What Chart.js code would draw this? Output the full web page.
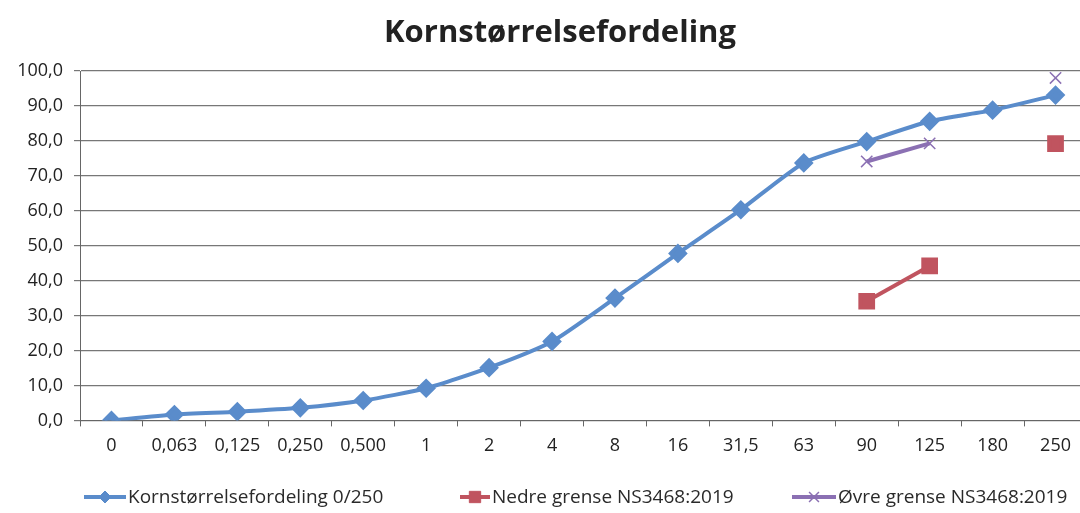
<!DOCTYPE html>
<html>
<head>
<meta charset="utf-8">
<script src="https://cdn.jsdelivr.net/npm/chart.js@4"></script>
<style>
  html, body { margin: 0; padding: 0; background: #fff; overflow: hidden; }
  #wrap { width: 1100px; height: 513px; }
</style>
</head>
<body>
<div id="wrap"><canvas id="chart" width="1100" height="513"></canvas></div>
<script>
const chartTitle = 'Kornstørrelsefordeling';
const sieveSizes = ['0', '0,063', '0,125', '0,250', '0,500', '1', '2', '4', '8', '16', '31,5', '63', '90', '125', '180', '250'];
const gradation = [0.0, 1.7, 2.5, 3.6, 5.7, 9.2, 15.1, 22.6, 35.0, 47.8, 60.3, 73.7, 79.8, 85.6, 88.8, 93.1];
const lowerLimit = [null, null, null, null, null, null, null, null, null, null, null, null, 34.1, 44.2, null, 79.2];
const upperLimit = [null, null, null, null, null, null, null, null, null, null, null, null, 74.1, 79.3, null, 98.0];
const yTicks = [0, 10, 20, 30, 40, 50, 60, 70, 80, 90, 100];

const BLUE = '#5a8ccb';
const RED = '#c0545f';
const PURPLE = '#8b70b3';
const FONT = '"Open Sans", sans-serif';

// title drawn by hand so it can sit where Excel put it (a bit right of canvas centre)
const excelTitle = {
  id: 'excelTitle',
  afterDraw(chart) {
    const ctx = chart.ctx;
    ctx.save();
    ctx.font = 'bold 31px ' + FONT;
    ctx.fillStyle = '#222';
    ctx.textAlign = 'center';
    ctx.textBaseline = 'middle';
    ctx.fillText(chartTitle, 560, 33);
    ctx.restore();
  }
};

// Excel style legend: short line with the marker in the middle
const excelLegend = {
  id: 'excelLegend',
  afterDraw(chart) {
    const ctx = chart.ctx;
    const y = 497;
    const items = [
      { x: 84, w: 42, text: 'Kornstørrelsefordeling 0/250', color: BLUE, style: 'rectRot', r: 6 },
      { x: 460, w: 30, text: 'Nedre grense NS3468:2019', color: RED, style: 'rect', r: 8 },
      { x: 792, w: 44, text: 'Øvre grense NS3468:2019', color: PURPLE, style: 'crossRot', r: 7 }
    ];
    ctx.save();
    ctx.font = '19px ' + FONT;
    ctx.textBaseline = 'middle';
    items.forEach(it => {
      ctx.strokeStyle = it.color;
      ctx.lineWidth = 4;
      ctx.beginPath();
      ctx.moveTo(it.x, y);
      ctx.lineTo(it.x + it.w, y);
      ctx.stroke();
      ctx.fillStyle = it.color;
      ctx.strokeStyle = it.color;
      ctx.lineWidth = it.style === 'crossRot' ? 1.5 : 1;
      Chart.helpers.drawPoint(ctx, { pointStyle: it.style, radius: it.r, borderWidth: ctx.lineWidth }, it.x + it.w / 2, y);
      ctx.fillStyle = '#2a2a2a';
      ctx.fillText(it.text, it.x + it.w + 2, y + 1);
    });
    ctx.restore();
  }
};

new Chart(document.getElementById('chart'), {
  type: 'line',
  data: {
    labels: sieveSizes,
    datasets: [
      {
        label: 'Kornstørrelsefordeling 0/250',
        data: gradation,
        borderColor: BLUE,
        backgroundColor: BLUE,
        borderWidth: 4,
        pointStyle: 'rectRot',
        pointRadius: 7,
        pointBorderColor: BLUE,
        pointBackgroundColor: BLUE,
        tension: 0.2
      },
      {
        label: 'Nedre grense NS3468:2019',
        data: lowerLimit,
        borderColor: RED,
        backgroundColor: RED,
        borderWidth: 4,
        pointStyle: 'rect',
        pointRadius: 9,
        pointBorderColor: RED,
        pointBackgroundColor: RED,
        spanGaps: false
      },
      {
        label: 'Øvre grense NS3468:2019',
        data: upperLimit,
        borderColor: PURPLE,
        backgroundColor: PURPLE,
        borderWidth: 4,
        pointStyle: 'crossRot',
        pointRadius: 8,
        pointBorderWidth: 1.5,
        pointBorderColor: PURPLE,
        spanGaps: false
      }
    ]
  },
  options: {
    responsive: false,
    animation: false,
    layout: { padding: { left: 0, right: 11, top: 71, bottom: 47 } },
    plugins: {
      legend: { display: false },
      tooltip: { enabled: false },
      title: { display: false }
    },
    scales: {
      x: {
        offset: true,
        grid: {
          offset: true,
          drawOnChartArea: false,
          drawTicks: true,
          tickLength: 6,
          color: '#666'
        },
        border: { color: '#666' },
        ticks: {
          color: '#222',
          font: { family: FONT, size: 18 },
          padding: 9,
          maxRotation: 0,
          autoSkip: false
        }
      },
      y: {
        min: 0,
        max: 100,
        afterFit(scale) { scale.width = 80; },
        afterBuildTicks(scale) { scale.ticks = yTicks.map(v => ({ value: v })); },
        grid: { color: '#777', tickLength: 6, lineWidth: 1.2 },
        border: { color: '#666' },
        ticks: {
          color: '#222',
          font: { family: FONT, size: 18 },
          padding: 11,
          callback: v => v.toFixed(1).replace('.', ',')
        }
      }
    }
  },
  plugins: [excelTitle, excelLegend]
});
</script>
</body>
</html>
